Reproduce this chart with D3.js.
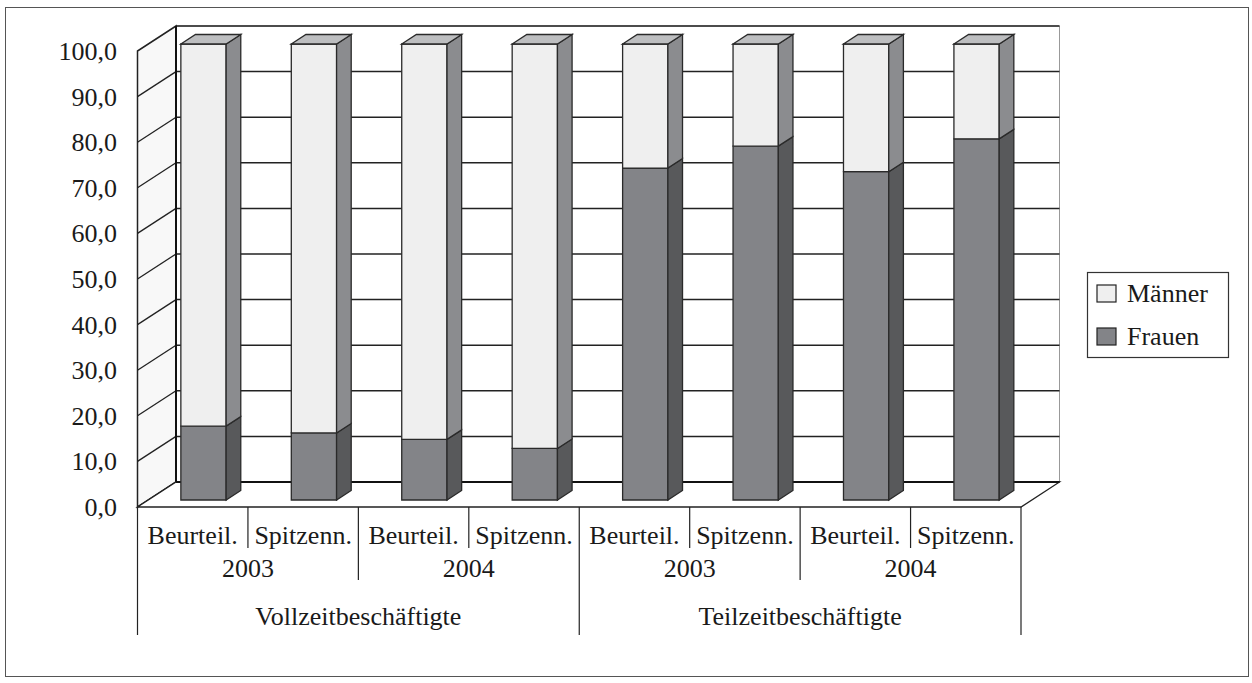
<!DOCTYPE html>
<html>
<head>
<meta charset="utf-8">
<script src="https://cdn.jsdelivr.net/npm/d3@7"></script>
<style>
  body { margin: 0; background: #fff; }
</style>
</head>
<body>
<div id="chart"></div>
<script>
// data
var categories = ["Beurteil.", "Spitzenn.", "Beurteil.", "Spitzenn.", "Beurteil.", "Spitzenn.", "Beurteil.", "Spitzenn."];
var years = ["2003", "2004", "2003", "2004"];
var groups = ["Vollzeitbeschäftigte", "Teilzeitbeschäftigte"];
var frauen = [16.2, 14.7, 13.3, 11.3, 72.8, 77.6, 72.0, 79.2];
var maenner = frauen.map(function (f) { return 100 - f; });
var yTicks = [0, 10, 20, 30, 40, 50, 60, 70, 80, 90, 100];
var seriesNames = ["Männer", "Frauen"];

var W = 1252, H = 683;
var DX = 38.5, DY = 25;          // depth of the 3d box
var zBar0 = 0.28, zBar1 = 0.66;  // bar depth inside the box
var fontSize = 26;
var fontFam = "'Liberation Serif', 'Times New Roman', Times, serif";

var colors = {
  Frauen: { front: "#838488", side: "#58595b", top: "#6e6f72" },
  "Männer": { front: "#efefef", side: "#8b8c8f", top: "#bdbec0" }
};

var svg = d3.select("#chart").append("svg")
  .attr("width", W)
  .attr("height", H)
  .attr("font-family", fontFam)
  .style("font-family", fontFam);

svg.append("rect")
  .attr("x", 5.5).attr("y", 7.5)
  .attr("width", 1243).attr("height", 669)
  .attr("fill", "none").attr("stroke", "#555").attr("stroke-width", 1);

var x = d3.scaleBand().domain(d3.range(categories.length)).range([137.5, 1021]).padding(0);
var y = d3.scaleLinear().domain([0, 100]).range([507, 51]);

// point at front x, value v, depth z (0 front .. 1 back)
function P(px, v, z) {
  return [px + z * DX, y(v) - z * DY];
}
function poly(pts) {
  return "M" + pts.map(function (p) { return p[0] + "," + p[1]; }).join("L") + "Z";
}

var xL = x.range()[0], xR = x.range()[1];

// back wall
svg.append("path")
  .attr("d", poly([P(xL, 0, 1), P(xL, 100, 1), P(xR, 100, 1), P(xR, 0, 1)]))
  .attr("fill", "#fff").attr("stroke", "#999").attr("stroke-width", 1);

svg.selectAll(".grid")
  .data(yTicks.slice(1))
  .enter().append("line")
  .attr("class", "grid")
  .attr("x1", P(xL, 0, 1)[0]).attr("x2", P(xR, 0, 1)[0])
  .attr("y1", function (d) { return P(xL, d, 1)[1]; })
  .attr("y2", function (d) { return P(xL, d, 1)[1]; })
  .attr("stroke", "#222").attr("stroke-width", 1.5);

// side wall
svg.append("path")
  .attr("d", poly([P(xL, 0, 0), P(xL, 100, 0), P(xL, 100, 1), P(xL, 0, 1)]))
  .attr("fill", "#f8f8f8").attr("stroke", "#222").attr("stroke-width", 1.5);

svg.selectAll(".sidegrid")
  .data(yTicks.slice(1, -1))
  .enter().append("line")
  .attr("class", "sidegrid")
  .attr("x1", xL).attr("x2", P(xL, 0, 1)[0])
  .attr("y1", function (d) { return y(d); })
  .attr("y2", function (d) { return P(xL, d, 1)[1]; })
  .attr("stroke", "#222").attr("stroke-width", 1.3);

// back wall left edge a bit stronger
svg.append("line")
  .attr("x1", P(xL, 0, 1)[0]).attr("x2", P(xL, 0, 1)[0])
  .attr("y1", P(xL, 0, 1)[1]).attr("y2", P(xL, 100, 1)[1])
  .attr("stroke", "#111").attr("stroke-width", 2);

// floor
svg.append("path")
  .attr("d", poly([P(xL, 0, 0), P(xL, 0, 1), P(xR, 0, 1), P(xR, 0, 0)]))
  .attr("fill", "#fff").attr("stroke", "#222").attr("stroke-width", 1.3);
svg.append("line")
  .attr("x1", P(xL, 0, 1)[0]).attr("x2", P(xR, 0, 1)[0])
  .attr("y1", P(xL, 0, 1)[1]).attr("y2", P(xL, 0, 1)[1])
  .attr("stroke", "#111").attr("stroke-width", 2.2);

// bars
var barW = x.bandwidth() * 0.41;
var stacks = frauen.map(function (f, i) {
  return [
    { name: "Frauen", v0: 0, v1: f },
    { name: "Männer", v0: f, v1: f + maenner[i] }
  ];
});

var barG = svg.selectAll(".bar")
  .data(stacks)
  .enter().append("g")
  .attr("class", "bar");

barG.each(function (segs, i) {
  var g = d3.select(this);
  var bx0 = x(i) + (x.bandwidth() - barW) / 2;
  var bx1 = bx0 + barW;
  segs.forEach(function (s, k) {
    var c = colors[s.name];
    g.append("path")
      .attr("d", poly([P(bx0, s.v0, zBar0), P(bx0, s.v1, zBar0), P(bx1, s.v1, zBar0), P(bx1, s.v0, zBar0)]))
      .attr("fill", c.front).attr("stroke", "#2a2a2a").attr("stroke-width", 1.3);
    g.append("path")
      .attr("d", poly([P(bx1, s.v0, zBar0), P(bx1, s.v1, zBar0), P(bx1, s.v1, zBar1), P(bx1, s.v0, zBar1)]))
      .attr("fill", c.side).attr("stroke", "#2a2a2a").attr("stroke-width", 1.3);
    if (k == segs.length - 1) {
      g.append("path")
        .attr("d", poly([P(bx0, s.v1, zBar0), P(bx0, s.v1, zBar1), P(bx1, s.v1, zBar1), P(bx1, s.v1, zBar0)]))
        .attr("fill", c.top).attr("stroke", "#2a2a2a").attr("stroke-width", 1.3);
    }
  });
});

// y axis labels
svg.selectAll(".ylab")
  .data(yTicks)
  .enter().append("text")
  .attr("class", "ylab")
  .attr("x", 117)
  .attr("y", function (d) { return y(d) + 9; })
  .attr("text-anchor", "end")
  .attr("font-size", fontSize)
  .attr("fill", "#1a1a1a")
  .text(function (d) { return d3.format(".1f")(d).replace(".", ","); });

// multi-level category axis
var baseY = y(0);
var lineCol = "#222";
function vline(px, yb) {
  svg.append("line")
    .attr("x1", px).attr("x2", px)
    .attr("y1", baseY).attr("y2", yb)
    .attr("stroke", lineCol).attr("stroke-width", 1.2);
}
d3.range(categories.length + 1).forEach(function (i) {
  var px = i < categories.length ? x(i) : xR;
  var yb;
  if (i % 4 == 0) yb = 635;
  else if (i % 2 == 0) yb = 580;
  else yb = 548;
  vline(px, yb);
});

svg.selectAll(".clab")
  .data(categories)
  .enter().append("text")
  .attr("class", "clab")
  .attr("x", function (d, i) { return x(i) + x.bandwidth() / 2; })
  .attr("y", 544)
  .attr("text-anchor", "middle")
  .attr("font-size", fontSize)
  .attr("fill", "#1a1a1a")
  .text(function (d) { return d; });

svg.selectAll(".yrlab")
  .data(years)
  .enter().append("text")
  .attr("class", "yrlab")
  .attr("x", function (d, i) { return x(i * 2) + x.bandwidth(); })
  .attr("y", 577)
  .attr("text-anchor", "middle")
  .attr("font-size", fontSize)
  .attr("fill", "#1a1a1a")
  .text(function (d) { return d; });

svg.selectAll(".glab")
  .data(groups)
  .enter().append("text")
  .attr("class", "glab")
  .attr("x", function (d, i) { return x(i * 4) + x.bandwidth() * 2; })
  .attr("y", 625)
  .attr("text-anchor", "middle")
  .attr("font-size", fontSize)
  .attr("fill", "#1a1a1a")
  .text(function (d) { return d; });

// legend
var leg = svg.append("g").attr("transform", "translate(1087,272)");
leg.append("rect")
  .attr("x", 0.5).attr("y", 0.5)
  .attr("width", 141).attr("height", 85)
  .attr("fill", "#fff").attr("stroke", "#333").attr("stroke-width", 1.2);
var li = leg.selectAll(".li")
  .data(seriesNames)
  .enter().append("g")
  .attr("class", "li")
  .attr("transform", function (d, i) { return "translate(10," + (13 + i * 43) + ")"; });
li.append("rect")
  .attr("width", 19).attr("height", 17)
  .attr("fill", function (d) { return colors[d].front; })
  .attr("stroke", "#222").attr("stroke-width", 1.2);
li.append("text")
  .attr("x", 30).attr("y", 17)
  .attr("font-size", fontSize)
  .attr("fill", "#1a1a1a")
  .text(function (d) { return d; });
</script>
</body>
</html>
